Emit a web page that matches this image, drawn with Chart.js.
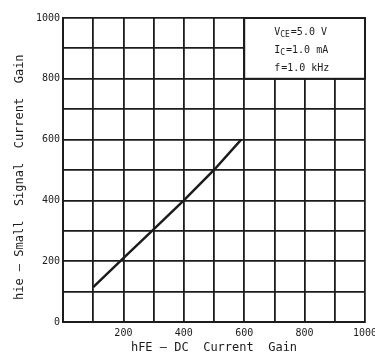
<!DOCTYPE html>
<html>
<head>
<meta charset="utf-8">
<script src="https://cdn.jsdelivr.net/npm/chart.js@4"></script>
<style>
  html, body { margin: 0; padding: 0; background: #ffffff; }
  #wrap { width: 375px; height: 359px; }
</style>
</head>
<body>
<div id="wrap"><canvas id="gainChart" width="375" height="359"></canvas></div>
<script>
// hFE vs hie curve
const hfeValues = [100, 200, 300, 400, 500, 590];
const hieValues = [115, 210, 305, 400, 500, 600];
const xLabelTicks = [200, 400, 600, 800, 1000];
const yLabelTicks = [0, 200, 400, 600, 800, 1000];
// test conditions: [main letter, subscript, rest]
const conditionLines = [['V', 'CE', '=5.0 V'], ['I', 'C', '=1.0 mA'], ['f', '', '=1.0 kHz']];
const boxRange = { xMin: 600, xMax: 1000, yMin: 800, yMax: 1000 };

const ink = '#1c1c1c';
const monoFont = "'DejaVu Sans Mono', 'Liberation Mono', monospace";

// white box with the test conditions in the top right corner
const conditionBox = {
    id: 'conditionBox',
    afterDatasetsDraw(chart) {
        const { ctx, scales: { x, y } } = chart;
        const left = x.getPixelForValue(boxRange.xMin);
        const right = x.getPixelForValue(boxRange.xMax);
        const top = y.getPixelForValue(boxRange.yMax);
        const bottom = y.getPixelForValue(boxRange.yMin);
        ctx.save();
        ctx.fillStyle = '#ffffff';
        ctx.fillRect(left, top, right - left, bottom - top);
        ctx.strokeStyle = ink;
        ctx.lineWidth = 2;
        ctx.strokeRect(left, top, right - left, bottom - top);
        ctx.fillStyle = ink;
        ctx.textBaseline = 'middle';
        conditionLines.forEach((parts, i) => {
            let tx = left + 30;
            const ty = top + 14 + i * 18;
            ctx.font = '10px ' + monoFont;
            ctx.fillText(parts[0], tx, ty);
            tx += ctx.measureText(parts[0]).width;
            if (parts[1]) {
                ctx.font = '8px ' + monoFont;
                ctx.fillText(parts[1], tx, ty + 3);
                tx += ctx.measureText(parts[1]).width;
            }
            ctx.font = '10px ' + monoFont;
            ctx.fillText(parts[2], tx + 1, ty);
        });
        ctx.restore();
    }
};

new Chart(document.getElementById('gainChart'), {
    type: 'line',
    data: {
        labels: hfeValues,
        datasets: [{
            data: hfeValues.map((v, i) => ({ x: v, y: hieValues[i] })),
            borderColor: ink,
            borderWidth: 2.5,
            pointRadius: 0,
            tension: 0,
            fill: false
        }]
    },
    options: {
        responsive: false,
        animation: false,
        layout: { padding: { left: 0, right: 10, top: 18, bottom: 0 } },
        plugins: {
            legend: { display: false },
            tooltip: { enabled: false }
        },
        scales: {
            x: {
                type: 'linear',
                min: 0,
                max: 1000,
                afterFit: s => { s.height = 37; s.paddingRight = 0; s.paddingLeft = 0; },
                border: { color: ink, width: 2 },
                grid: { color: ink, lineWidth: 1.8, drawTicks: false },
                ticks: {
                    stepSize: 100,
                    padding: 5,
                    color: ink,
                    font: { family: monoFont, size: 10 },
                    maxRotation: 0,
                    autoSkip: false,
                    callback: v => xLabelTicks.includes(v) ? String(v) : ''
                },
                title: {
                    display: true,
                    text: 'hFE \u2014 DC  Current  Gain',
                    color: ink,
                    font: { family: monoFont, size: 12 },
                    padding: { top: 0, bottom: 4 }
                }
            },
            y: {
                type: 'linear',
                min: 0,
                max: 1000,
                afterFit: s => { s.width = 63; },
                border: { color: ink, width: 2 },
                grid: { color: ink, lineWidth: 1.8, drawTicks: false },
                ticks: {
                    stepSize: 100,
                    padding: 3,
                    color: ink,
                    font: { family: monoFont, size: 10 },
                    autoSkip: false,
                    callback: v => yLabelTicks.includes(v) ? String(v) : ''
                },
                title: {
                    display: true,
                    text: 'hie \u2014 Small  Signal  Current  Gain  ',
                    color: ink,
                    font: { family: monoFont, size: 12 },
                    padding: { top: 13, bottom: 0 }
                }
            }
        }
    },
    plugins: [conditionBox]
});
</script>
</body>
</html>
